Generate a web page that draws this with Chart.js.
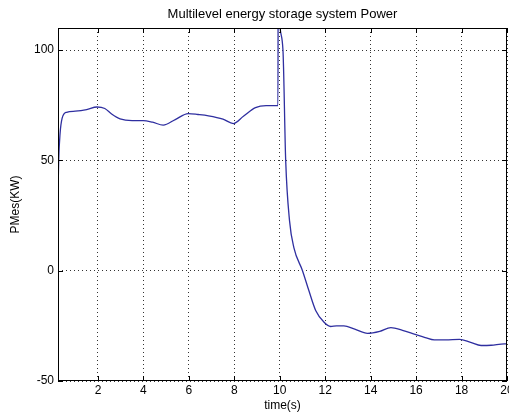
<!DOCTYPE html>
<html>
    <head>
        <title>Multilevel energy storage system Power</title>
        <meta name="viewport" content="width=device-width, initial-scale=1.0">
        <style>
            html, body { margin: 0; padding: 0; background: #fff; }
            .chart-container { position: relative; width: 509px; height: 417px; }
        </style>
    </head>
    <body>
        <div class="chart-container">
            <canvas id="myChart"></canvas>
        </div>
        <script src="https://cdn.jsdelivr.net/npm/chart.js@4/dist/chart.umd.min.js"></script>
        <script>
            var timeS = [0.24, 0.27, 0.33, 0.42, 0.62, 1.0, 1.5, 1.95, 2.3, 2.6, 2.97, 3.5, 3.99, 4.4, 4.87,
                5.4, 5.97, 6.4, 6.86, 7.5, 7.96, 8.4, 8.93, 9.4, 9.92, 9.93, 9.98, 10.14, 10.26, 10.43, 10.62,
                11.0, 11.28, 11.58, 11.95, 12.24, 12.5, 12.82, 13.3, 13.86, 14.4, 14.89, 15.4, 15.92, 16.4,
                16.8, 17.3, 17.91, 18.4, 18.86, 19.3, 19.88, 20];
            var powerKW = [35, 50, 62, 69, 71.8, 72.3, 73, 74.2, 73.5, 71, 68.8, 68, 68, 67.3, 66,
                68.5, 71.2, 70.8, 70.2, 68.7, 66.7, 70, 73.9, 74.8, 74.8, 140, 115, 100, 50, 22.6, 10.5,
                0, -9, -18, -23.4, -25.3, -25, -25, -26.5, -28.4, -27.5, -25.8, -27, -28.7, -30.3,
                -31.4, -31.4, -31.1, -32.5, -33.9, -33.8, -33.2, -33.2];
            var xTicks = [2, 4, 6, 8, 10, 12, 14, 16, 18, 20];
            var yTicks = [-50, 0, 50, 100];
            var titleText = 'Multilevel energy storage system Power';

            var font = { family: "'Liberation Sans', Arial, sans-serif", size: 12 };

            // matlab style box with little inward ticks, title centred on the axes
            var boxPlugin = {
                id: 'box',
                afterDraw: function(chart) {
                    var ctx = chart.ctx, a = chart.chartArea;
                    var xs = chart.scales.x, ys = chart.scales.y;
                    ctx.save();
                    ctx.strokeStyle = '#000';
                    ctx.lineWidth = 1;
                    ctx.strokeRect(a.left + 0.5, a.top + 0.5, a.right - a.left - 1, a.bottom - a.top - 1);
                    ctx.beginPath();
                    xTicks.forEach(function(v) {
                        var px = Math.round(xs.getPixelForValue(v)) + 0.5;
                        ctx.moveTo(px, a.bottom); ctx.lineTo(px, a.bottom - 5);
                        ctx.moveTo(px, a.top); ctx.lineTo(px, a.top + 5);
                    });
                    yTicks.forEach(function(v) {
                        var py = Math.round(ys.getPixelForValue(v)) + 0.5;
                        ctx.moveTo(a.left, py); ctx.lineTo(a.left + 5, py);
                        ctx.moveTo(a.right, py); ctx.lineTo(a.right - 5, py);
                    });
                    ctx.stroke();
                    ctx.fillStyle = '#000';
                    ctx.font = '13px ' + font.family;
                    ctx.textAlign = 'center';
                    ctx.textBaseline = 'middle';
                    ctx.fillText(titleText, (a.left + a.right) / 2, 14);
                    ctx.restore();
                }
            };

            var points = timeS.map(function(t, i) { return { x: t, y: powerKW[i] }; });

            var ctx = document.getElementById('myChart').getContext('2d');
            var chart = new Chart(ctx, {
                type: 'line',
                data: {
                    datasets: [{
                        label: 'PMes',
                        data: points,
                        borderColor: '#2f2fa0',
                        borderWidth: 1.3,
                        pointRadius: 0,
                        cubicInterpolationMode: 'monotone',
                        fill: false
                    }]
                },
                options: {
                    responsive: true,
                    maintainAspectRatio: false,
                    animation: false,
                    layout: { padding: { top: 28, right: 2, left: 0, bottom: 0 } },
                    plugins: {
                        legend: { display: false },
                        tooltip: { enabled: false },
                        title: { display: false }
                    },
                    scales: {
                        x: {
                            type: 'linear',
                            min: 0.24,
                            max: 20,
                            afterBuildTicks: function(scale) {
                                scale.ticks = xTicks.map(function(v) { return { value: v }; });
                            },
                            afterFit: function(scale) {
                                scale.height = 36;
                                scale.paddingLeft = 0;
                                scale.paddingRight = 0;
                            },
                            grid: { color: '#333', drawTicks: false, tickLength: 0 },
                            border: { display: false, dash: [1, 3] },
                            ticks: { color: '#000', font: font, padding: 2, maxRotation: 0, autoSkip: false },
                            title: { display: true, text: 'time(s)', color: '#000', font: font, padding: { top: 0, bottom: 4 } }
                        },
                        y: {
                            min: -50,
                            max: 110,
                            afterBuildTicks: function(scale) {
                                scale.ticks = yTicks.map(function(v) { return { value: v }; });
                            },
                            afterFit: function(scale) {
                                scale.width = 58;
                                scale.paddingTop = 0;
                                scale.paddingBottom = 0;
                            },
                            grid: { color: '#333', drawTicks: false, tickLength: 0 },
                            border: { display: false, dash: [1, 3] },
                            ticks: { color: '#000', font: font, padding: 4 },
                            title: { display: true, text: 'PMes(KW)', color: '#000', font: font, padding: { top: 8, bottom: 0 } }
                        }
                    }
                },
                plugins: [boxPlugin]
            });
        </script>
    </body>
</html>
